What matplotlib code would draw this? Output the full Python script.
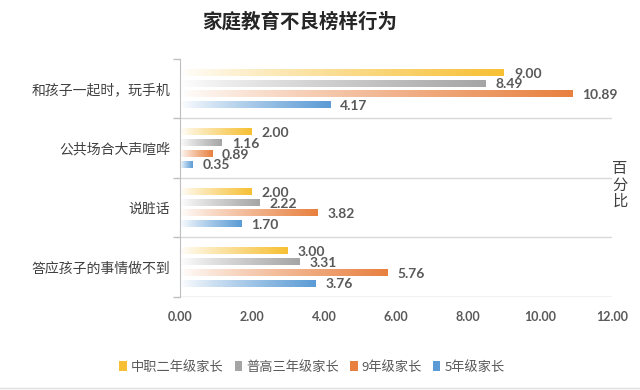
import numpy as np
import matplotlib
matplotlib.use("Agg")
from matplotlib import pyplot as plt
from matplotlib.colors import to_rgb
from matplotlib.patches import Patch

plt.rcParams['font.family'] = ['Noto Sans CJK SC', 'DejaVu Sans']

categories = ['和孩子一起时，玩手机', '公共场合大声喧哗', '说脏话', '答应孩子的事情做不到']
series_names = ['中职二年级家长', '普高三年级家长', '9年级家长', '5年级家长']
zhongzhi = [9.00, 2.00, 2.00, 3.00]
pugao = [8.49, 1.16, 2.22, 3.31]
grade9 = [10.89, 0.89, 3.82, 5.76]
grade5 = [4.17, 0.35, 1.70, 3.76]
xticks = [0, 2, 4, 6, 8, 10, 12]

series = [zhongzhi, pugao, grade9, grade5]
colors = ['#F7C034', '#A5A5A5', '#E8803F', '#5B9BD5']

fig = plt.figure(figsize=(6.4, 3.9), dpi=100)
ax = fig.add_axes([0.281, 0.2385, 0.675, 0.6105])

n = len(categories)
offsets = [-0.27, -0.09, 0.09, 0.27]
bar_h = 0.11

# horizontal gradient, white on the left to full colour on the right
grad = np.linspace(0, 1, 256) ** 0.85
for s, vals in enumerate(series):
    rgb = np.array(to_rgb(colors[s]))
    img = np.ones((1, 256, 3)) * (1 - grad[None, :, None]) + rgb[None, None, :] * grad[None, :, None]
    for i, v in enumerate(vals):
        y = i + offsets[s]
        ax.imshow(img, extent=[0, v, y + bar_h / 2, y - bar_h / 2], aspect='auto',
                  interpolation='bilinear', zorder=2)
        ax.text(v + 0.28, y + 0.02, f'{v:.2f}', va='center', ha='left', fontsize=10,
                fontweight='bold', color='#595959', family=['Lato', 'DejaVu Sans'])

ax.set_xlim(0, 12)
ax.set_ylim(n - 0.5, -0.5)
ax.set_xticks(xticks)
ax.set_xticklabels([f'{t:.2f}' for t in xticks], family=['Lato', 'DejaVu Sans'],
                   fontsize=9, fontweight='bold', color='#595959')
ax.tick_params(axis='x', length=0, pad=10)

ax.set_yticks(range(n))
ax.set_yticklabels(categories, fontsize=10, color='#404040')
ax.tick_params(axis='y', length=0, pad=7)
ax.set_yticks(np.arange(-0.5, n, 1), minor=True)
ax.tick_params(axis='y', which='minor', length=5, color='#BFBFBF', width=1)

for b in np.arange(0.5, n, 1):
    ax.axhline(b, color='#D9D9D9', lw=1, zorder=1)
ax.axhline(n - 0.5, color='#D9D9D9', lw=1, zorder=1)

for side in ['top', 'right', 'bottom']:
    ax.spines[side].set_visible(False)
ax.spines['left'].set_color('#BFBFBF')

fig.text(300 / 640, 1 - 22 / 390, '家庭教育不良榜样行为', ha='center', va='center',
         fontsize=14, fontweight='bold', color='#262626')
fig.text(620 / 640, 1 - 185 / 390, '百\n分\n比', ha='center', va='center',
         fontsize=11, color='#404040', linespacing=0.95)

handles = [Patch(facecolor=c, edgecolor='none') for c in colors]
fig.legend(handles, series_names, loc='center', bbox_to_anchor=(312 / 640, 1 - 367 / 390),
           ncol=4, frameon=False, fontsize=9.5, handlelength=0.6, handleheight=0.8,
           handletextpad=0.3, columnspacing=0.8, labelcolor='#595959')

fig.add_artist(plt.Line2D([0, 1], [1 - 388 / 390] * 2, color='#E0E0E0', lw=1))

fig.savefig('out.png', dpi=100)
